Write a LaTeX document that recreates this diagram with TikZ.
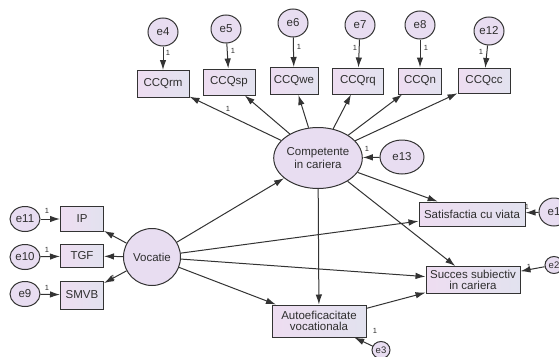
\documentclass[tikz,border=0pt]{standalone}
\usepackage{fontspec}
\setmainfont{Liberation Sans}
\usetikzlibrary{arrows.meta,shapes.geometric}

\definecolor{edge}{HTML}{333333}
\definecolor{ink}{HTML}{2E2E2E}
\definecolor{lav}{HTML}{E8DDF1}
\definecolor{boxL}{HTML}{EEDDF1}
\definecolor{boxR}{HTML}{E2E2EF}

\begin{document}
\begin{tikzpicture}[x=1pt,y=-1pt,
    font=\fontsize{11.5}{12.5}\selectfont,text=ink,
    obs/.style={draw=edge,line width=1pt,left color=boxL,right color=boxR,
        minimum height=26pt,inner sep=1pt,align=center},
    lat/.style={draw=edge,line width=1pt,fill=lav,ellipse,inner sep=0pt,align=center},
    err/.style={lat,minimum width=30pt,minimum height=28pt},
    arr/.style={draw=edge,line width=1pt,-{Latex[length=10pt,width=6.5pt]}},
    one/.style={font=\fontsize{7.5}{8}\selectfont,inner sep=0pt}
]

\useasboundingbox (0,0) rectangle (559,356);
\clip (0,0) rectangle (559,356);

% Latent variables
\node[lat,minimum width=85pt,minimum height=61pt] (comp) at (318,158) {Competente\\in cariera};
\node[lat,minimum width=57pt,minimum height=57pt] (voc) at (152,257) {Vocatie};

% Indicators of competente
\node[obs,minimum width=52pt,minimum height=27pt] (rm) at (163,84) {CCQrm};
\node[obs,minimum width=52pt] (sp) at (229,82) {CCQsp};
\node[obs,minimum width=48pt,minimum height=27pt] (we) at (294,81) {CCQwe};
\node[obs,minimum width=51pt] (rq) at (358,81) {CCQrq};
\node[obs,minimum width=43pt] (n) at (420,81) {CCQn};
\node[obs,minimum width=52pt,minimum height=25pt] (cc) at (484,81) {CCQcc};

% Indicators of vocatie
\node[obs,minimum width=43pt,minimum height=25pt] (ip) at (82,219) {IP};
\node[obs,minimum width=43pt,minimum height=23pt] (tgf) at (82,256) {TGF};
\node[obs,minimum width=43pt,minimum height=28pt] (smvb) at (82,295) {SMVB};

% Outcomes
\node[obs,minimum width=106pt,minimum height=24pt,inner xsep=0pt] (sat) at (472,214) {Satisfactia cu viata};
\node[obs,minimum width=94pt,minimum height=27pt,font=\fontsize{11.5}{11}\selectfont] (suc) at (473,280) {Succes subiectiv\\in cariera};
\node[obs,minimum width=94pt,minimum height=32pt,font=\fontsize{11.5}{11.5}\selectfont] (auto) at (319,321) {Autoeficacitate\\vocationala};

% Error terms
\node[err] (e4) at (163,32) {e4};
\node[err] (e5) at (226,29) {e5};
\node[err] (e6) at (293,23) {e6};
\node[err] (e7) at (360,25) {e7};
\node[err] (e8) at (420,25) {e8};
\node[err] (e12) at (489,31) {e12};
\node[err,minimum height=25pt] (e11) at (25,219) {e11};
\node[err,minimum height=25pt] (e10) at (25,257) {e10};
\node[err,minimum height=25pt] (e9) at (25,294) {e9};
\node[lat,minimum width=44pt,minimum height=34pt] (e13) at (402,157) {e13};
\node[err] (e1) at (554,212) {e1};
\node[lat,minimum width=18pt,minimum height=17pt,font=\fontsize{9.5}{9}\selectfont] (e2) at (554,265) {e2};
\node[lat,minimum width=18pt,minimum height=17pt,font=\fontsize{9.5}{9}\selectfont] (e3) at (381,350) {e3};

% Loadings
\foreach \b in {rm,sp,we,rq,n,cc}
    \draw[arr] (comp) -- (\b);
\foreach \b in {ip,tgf,smvb}
    \draw[arr] (voc) -- (\b);

% Structural paths
\draw[arr] (voc) -- (comp);
\draw[arr] (voc) -- (sat);
\draw[arr] (voc) -- (suc);
\draw[arr] (voc) -- (auto);
\draw[arr] (comp) -- (sat);
\draw[arr] (comp) -- (suc);
\draw[arr] (comp) -- (auto);
\draw[arr] (auto) -- (suc);

% Errors
\draw[arr] (e4) -- (rm);
\draw[arr] (e5) -- (sp);
\draw[arr] (e6) -- (we);
\draw[arr] (e7) -- (rq);
\draw[arr] (e8) -- (n);
\draw[arr] (e12) -- (cc);
\draw[arr] (e11) -- (ip);
\draw[arr] (e10) -- (tgf);
\draw[arr] (e9) -- (smvb);
\draw[arr] (e13) -- (comp);
\draw[arr] (e1) -- (sat);
\draw[arr] (e2) -- (suc);
\draw[arr] (e3) -- (auto);

% Fixed weights
\node[one] (w4) at (168,53) {1};
\node[one] (w5) at (233,51) {1};
\node[one] (w6) at (299,47) {1};
\node[one] (w7) at (355,48) {1};
\node[one] (w8) at (426,48) {1};
\node[one] (w12) at (481,52) {1};
\node[one] (wrm) at (228,109) {1};
\node[one] (w11) at (47,211) {1};
\node[one] (w10) at (47,250) {1};
\node[one] (w9) at (47,288) {1};
\node[one] (wsm) at (113,278) {1};
\node[one] (w13) at (367,149) {1};
\node[one] (w1) at (527,207) {1};
\node[one] (w2) at (529,267) {1};
\node[one] (w3) at (375,331) {1};

\end{tikzpicture}
\end{document}
